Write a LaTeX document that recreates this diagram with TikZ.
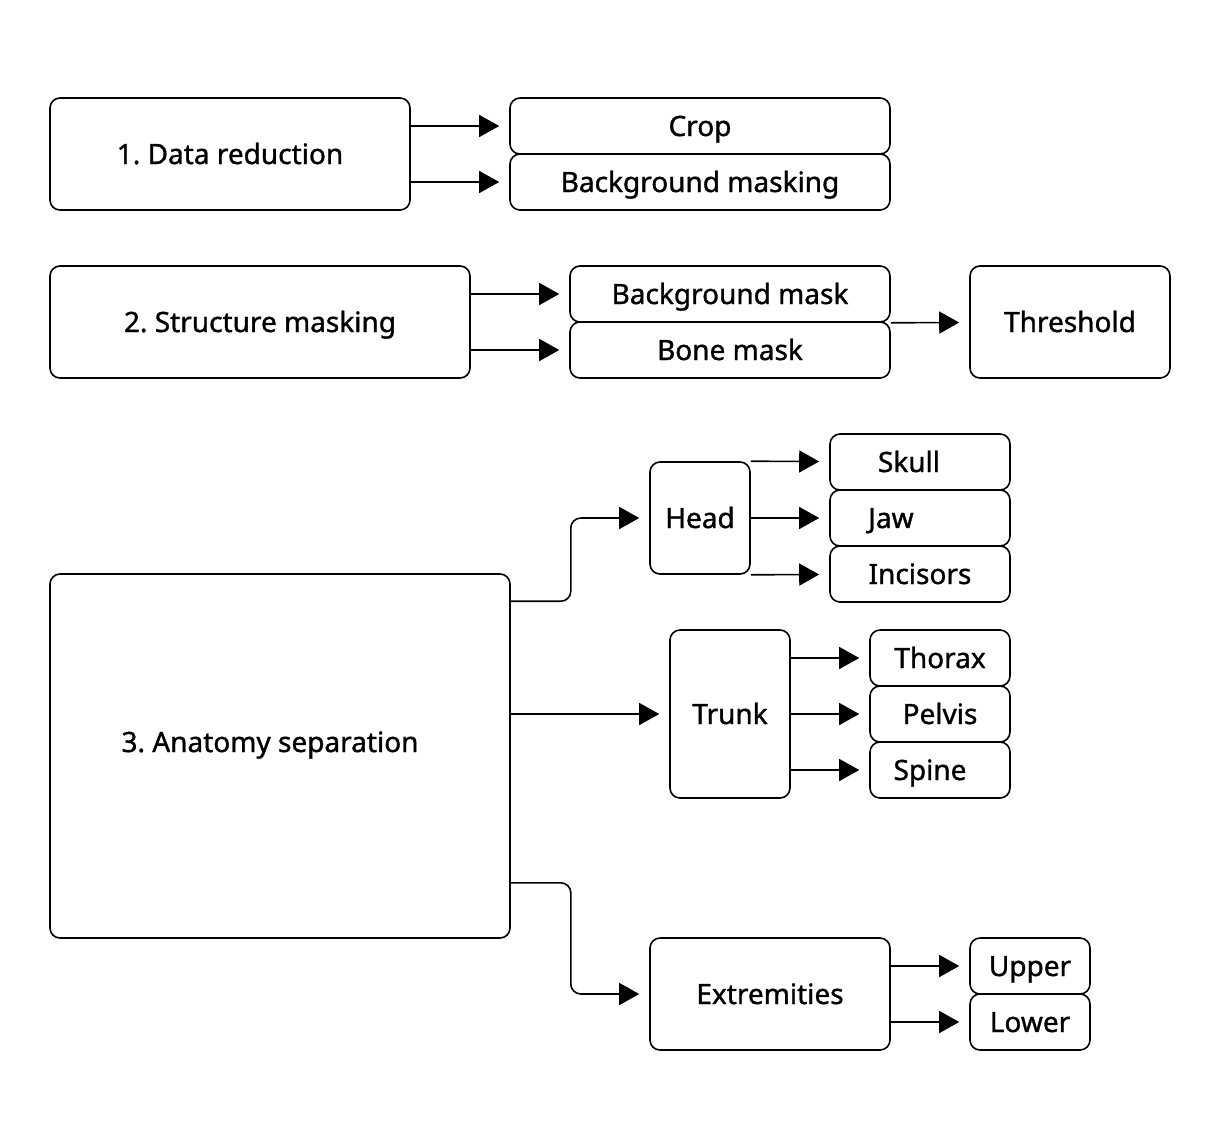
\documentclass[tikz,border=0pt]{standalone}
\usepackage{fontspec}
\setmainfont{Noto Sans}[FakeBold=1.2]
\usetikzlibrary{arrows.meta}
\frenchspacing

\begin{document}
\begin{tikzpicture}[x=1pt ,y=-1pt ,line width=1.6pt ,
block/.style ={ rectangle ,draw ,rounded corners=10pt ,
inner sep=0pt ,text height=20pt ,text depth=0pt ,
font=\fontsize{28}{32}\selectfont\bfseries},
link/.style={-{Triangle[length=20pt,width=22pt]} ,shorten >=10pt ,rounded corners=10pt}
]
\useasboundingbox (0,0) rectangle (1220,1120);
% 1. data reduction
\node[block ,minimum width=360pt ,minimum height=112pt] (dr) at (230,154) {1. Data reduction};
\node[block ,minimum width=380pt ,minimum height=56pt] (crop) at (700,126) {Crop};
\node[block ,minimum width=380pt ,minimum height=56pt] (bgmask) at (700,182) {Background masking};
\draw[link] (dr.east |- crop) -- (crop);
\draw[link] (dr.east |- bgmask) -- (bgmask);
% 2. structure masking
\node[block ,minimum width=420pt ,minimum height=112pt] (sm) at (260,322) {2. Structure masking};
\node[block ,minimum width=320pt ,minimum height=56pt] (bgk) at (730,294) {Background mask};
\node[block ,minimum width=320pt ,minimum height=56pt] (bone) at (730,350) {Bone mask};
\node[block ,minimum width=200pt ,minimum height=112pt] (thr) at (1070,322) {Threshold};
\draw[link] (sm.east |- bgk) -- (bgk);
\draw[link] (sm.east |- bone) -- (bone);
\draw[link] (bgk.south east) -- (thr);
% 3. anatomy separation
\node[block ,minimum width=460pt ,minimum height=364pt] (as) at (280,756)
  {\raisebox{14pt}{3. Anatomy separation}\kern20pt};
\node[block ,minimum width=100pt ,minimum height=112pt] (head) at (700,518) {Head};
\node[block ,minimum width=180pt ,minimum height=56pt] (skull) at (920,462) {Skull\kern22pt};
\node[block ,minimum width=180pt ,minimum height=56pt] (jaw) at (920,518) {Jaw\kern58pt};
\node[block ,minimum width=180pt ,minimum height=56pt] (inc) at (920,574) {Incisors};
\node[block ,minimum width=120pt ,minimum height=168pt] (trunk) at (730,714) {Trunk};
\node[block ,minimum width=140pt ,minimum height=56pt] (thorax) at (940,658) {Thorax};
\node[block ,minimum width=140pt ,minimum height=56pt] (pelvis) at (940,714) {Pelvis};
\node[block ,minimum width=140pt ,minimum height=56pt] (spine) at (940,770) {Spine\kern20pt};
\node[block ,minimum width=240pt ,minimum height=112pt] (ext) at (770,994) {Extremities};
\node[block ,minimum width=120pt ,minimum height=56pt] (upper) at (1030,966) {Upper};
\node[block ,minimum width=120pt ,minimum height=56pt] (lower) at (1030,1022) {Lower};
\draw[link] ([yshift=-28pt]as.north east) -- ++(60,0) |- (head);
\draw[link] (as.east |- trunk) -- (trunk);
\draw[link] ([yshift=56pt]as.south east) -- ++(60,0) |- (ext);
\draw[link] (head.north east) -- (skull);
\draw[link] (head.east) -- (jaw);
\draw[link] (head.south east) -- (inc);
\draw[link] (trunk.east |- thorax) -- (thorax);
\draw[link] (trunk.east |- pelvis) -- (pelvis);
\draw[link] (trunk.east |- spine) -- (spine);
\draw[link] (ext.east |- upper) -- (upper);
\draw[link] (ext.east |- lower) -- (lower);
\end{tikzpicture}
\end{document}
